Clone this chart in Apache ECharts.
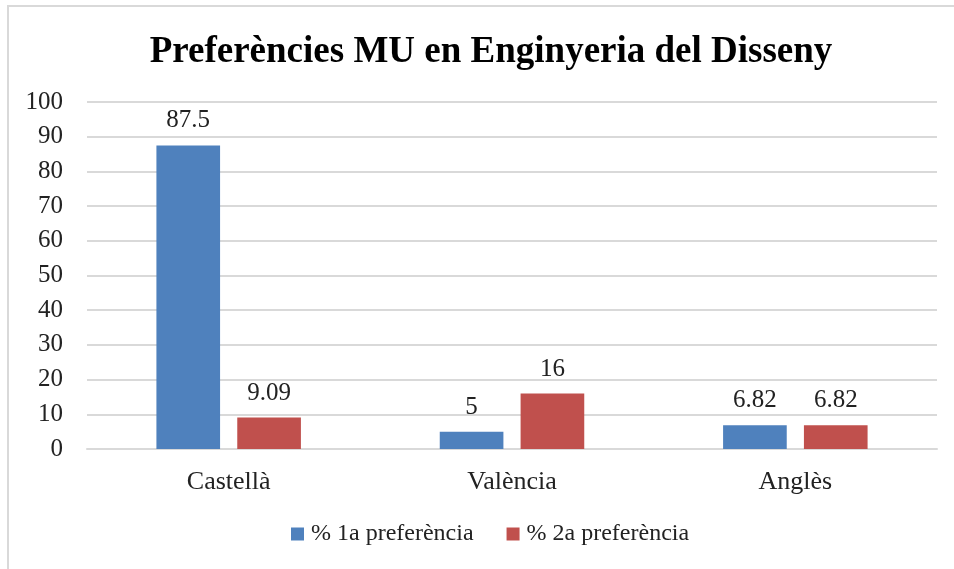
<!DOCTYPE html>
<html>
<head>
<meta charset="utf-8">
<script src="https://cdn.jsdelivr.net/npm/echarts@6/dist/echarts.min.js"></script>
<style>
  html, body { margin: 0; padding: 0; background: #fff; }
  #frame { position: absolute; left: 7px; top: 5px; width: 960px; height: 600px; border: 2px solid #d9d9d9; box-sizing: border-box; }
  #chart { position: absolute; left: 0; top: 0; width: 954px; height: 569px; }
</style>
</head>
<body>
<div id="frame"></div>
<div id="chart"></div>
<script>
  var categories = ['Castellà', 'València', 'Anglès'];
  var seriesNames = ['% 1a preferència', '% 2a preferència'];
  var first = [87.5, 5, 6.82];
  var second = [9.09, 16, 6.82];
  var yTicks = { min: 0, max: 100, interval: 10 };

  var font = '"Liberation Serif", "Times New Roman", serif';
  var myChart = echarts.init(document.getElementById('chart'));

  var labelStyle = {
    show: true,
    position: 'top',
    distance: 12,
    fontFamily: font,
    fontSize: 25,
    color: '#222'
  };

  var option = {
    animation: false,
    title: {
      text: 'Preferències MU en Enginyeria del Disseny',
      left: 486,
      textAlign: 'center',
      top: 29,
      textStyle: { fontFamily: font, fontSize: 37, fontWeight: 'bold', color: '#000' }
    },
    legend: {
      data: seriesNames,
      bottom: 18,
      left: 286,
      itemWidth: 13,
      itemHeight: 13,
      itemGap: 33,
      icon: 'rect',
      textStyle: { fontFamily: font, fontSize: 24, color: '#222', padding: [0, 0, 0, 2] }
    },
    grid: { left: 87, right: 17, top: 102, bottom: 120 },
    xAxis: {
      type: 'category',
      data: categories,
      axisLine: { show: true, lineStyle: { color: '#d9d9d9', width: 2 } },
      axisTick: { show: false },
      axisLabel: { fontFamily: font, fontSize: 26, color: '#222', margin: 20 }
    },
    yAxis: {
      type: 'value',
      min: yTicks.min,
      max: yTicks.max,
      interval: yTicks.interval,
      axisLine: { show: false },
      axisTick: { show: false },
      splitLine: { lineStyle: { color: '#d9d9d9', width: 2 } },
      axisLabel: { fontFamily: font, fontSize: 25, color: '#222', margin: 24 }
    },
    series: [
      {
        name: seriesNames[0],
        type: 'bar',
        data: first,
        barGap: '27%',
        barCategoryGap: '49%',
        itemStyle: { color: '#4F81BD' },
        label: labelStyle
      },
      {
        name: seriesNames[1],
        type: 'bar',
        data: second,
        itemStyle: { color: '#C0504D' },
        label: labelStyle
      }
    ]
  };
  myChart.setOption(option);
</script>
</body>
</html>
